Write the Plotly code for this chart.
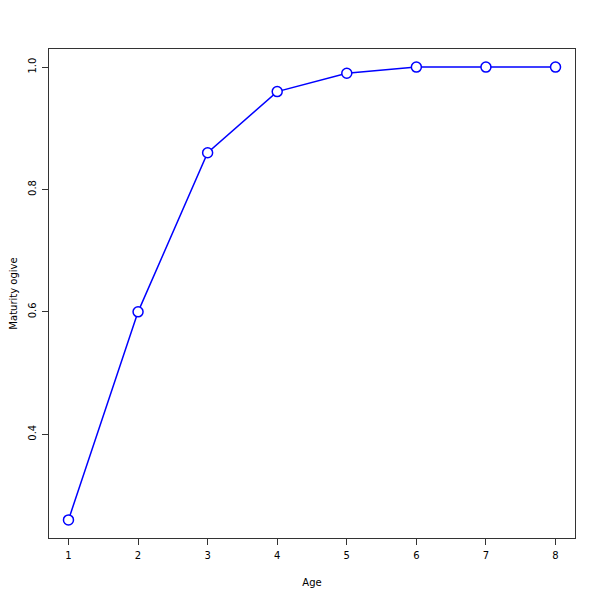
import plotly.graph_objects as go

ages = [1, 2, 3, 4, 5, 6, 7, 8]
maturity = [0.26, 0.60, 0.86, 0.96, 0.99, 1.00, 1.00, 1.00]
x_ticks = [1, 2, 3, 4, 5, 6, 7, 8]
y_ticks = [0.4, 0.6, 0.8, 1.0]
y_tick_labels = ["0.4", "0.6", "0.8", "1.0"]

fig = go.Figure()
fig.add_trace(go.Scatter(
    x=ages, y=maturity, mode="lines+markers",
    line=dict(color="#0000ff", width=1.5),
    marker=dict(symbol="circle", size=10, color="white",
                line=dict(color="#0000ff", width=1.5)),
    showlegend=False,
))

font = dict(family="DejaVu Sans", size=10, color="black")
fig.update_layout(
    width=600, height=600,
    margin=dict(l=41, r=33, t=41, b=70),
    paper_bgcolor="white", plot_bgcolor="white",
    font=font,
    xaxis=dict(
        range=[0.72, 8.28], tickvals=x_ticks, ticks="outside", ticklen=6,
        ticklabelstandoff=2,
        tickcolor="#333", showgrid=False, zeroline=False, automargin=False,
        showline=True, mirror=True, linecolor="#333", linewidth=1,
        title=dict(text="Age", font=font, standoff=18),
    ),
    yaxis=dict(
        range=[0.2304, 1.0296], tickvals=y_ticks, ticktext=y_tick_labels,
        ticks="outside", ticklen=6, tickangle=-90, automargin=False,
        ticklabelstandoff=2,
        tickcolor="#333", showgrid=False, zeroline=False,
        showline=True, mirror=True, linecolor="#333", linewidth=1,
        title=dict(text="Maturity ogive", font=font, standoff=21),
    ),
)
fig.write_html("out.html")
